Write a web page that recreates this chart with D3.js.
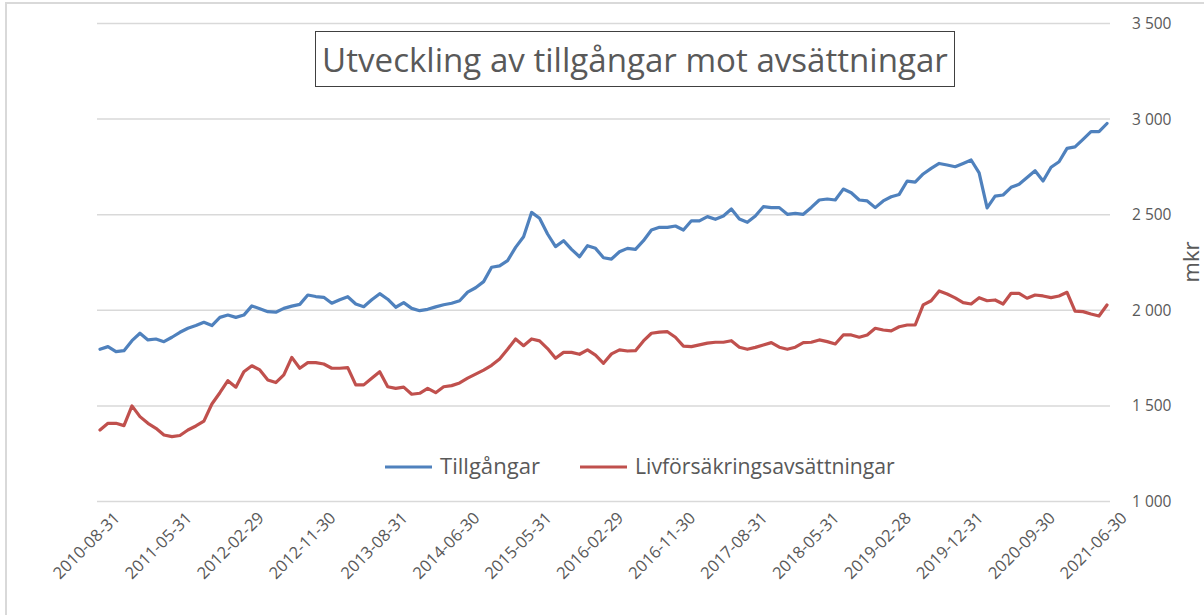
<!DOCTYPE html>
<html>
<head>
<meta charset="utf-8">
<script src="https://cdn.jsdelivr.net/npm/d3@7"></script>
<style>
  body { margin: 0; background: #fff; }
  text { font-family: "Open Sans", "Noto Sans", sans-serif; fill: #595959; }
</style>
</head>
<body>
<div id="chart"></div>
<script>
// month-end dates, a few months are missing in the source series
var skippedMonths = ["2013-12-31", "2014-09-30", "2014-12-31", "2019-06-30"];
var fmt = d3.timeFormat("%Y-%m-%d");
var categories = d3.timeMonth.range(new Date(2010, 7, 1), new Date(2021, 6, 1))
    .map(m => fmt(d3.timeDay.offset(d3.timeMonth.offset(m, 1), -1)))
    .filter(d => skippedMonths.indexOf(d) < 0);

var tickLabels = ["2010-08-31", "2011-05-31", "2012-02-29", "2012-11-30", "2013-08-31",
    "2014-06-30", "2015-05-31", "2016-02-29", "2016-11-30", "2017-08-31", "2018-05-31",
    "2019-02-28", "2019-12-31", "2020-09-30", "2021-06-30"];

var yTicks = [1000, 1500, 2000, 2500, 3000, 3500];

var tillgangar = [
    1796, 1810, 1784, 1789, 1841, 1880, 1845, 1850, 1836, 1859,
    1885, 1906, 1920, 1937, 1920, 1963, 1975, 1963, 1975, 2023,
    2008, 1993, 1990, 2010, 2022, 2031, 2080, 2072, 2068, 2037,
    2055, 2071, 2033, 2019, 2055, 2087, 2058, 2016, 2040, 2010,
    1998, 2005, 2018, 2029, 2037, 2050, 2095, 2118, 2150, 2225,
    2232, 2260, 2329, 2385, 2512, 2481, 2399, 2333, 2364, 2319,
    2280, 2338, 2324, 2275, 2268, 2306, 2324, 2319, 2364, 2420,
    2434, 2434, 2441, 2420, 2468, 2468, 2490, 2476, 2493, 2530,
    2477, 2460, 2493, 2542, 2537, 2537, 2502, 2507, 2502, 2538,
    2577, 2582, 2577, 2634, 2615, 2577, 2572, 2537, 2572, 2594,
    2606, 2676, 2670, 2713, 2742, 2768, 2760, 2751, 2768, 2786,
    2719, 2536, 2597, 2603, 2643, 2659, 2695, 2730, 2676, 2748,
    2777, 2847, 2855, 2894, 2934, 2934, 2977];

var avsattningar = [
    1374, 1409, 1409, 1397, 1500, 1444, 1409, 1383, 1348, 1339,
    1345, 1374, 1395, 1420, 1510, 1569, 1632, 1598, 1679, 1710,
    1688, 1636, 1622, 1662, 1754, 1697, 1726, 1726, 1719, 1697,
    1697, 1700, 1610, 1610, 1645, 1679, 1600, 1592, 1598, 1561,
    1566, 1592, 1569, 1600, 1606, 1620, 1645, 1666, 1687, 1712,
    1745, 1796, 1850, 1815, 1850, 1840, 1800, 1749, 1780, 1780,
    1770, 1793, 1766, 1723, 1772, 1793, 1787, 1789, 1840, 1880,
    1886, 1888, 1859, 1813, 1810, 1819, 1828, 1833, 1833, 1841,
    1807, 1796, 1806, 1819, 1831, 1807, 1796, 1807, 1831, 1833,
    1845, 1836, 1824, 1871, 1871, 1859, 1871, 1906, 1897, 1892,
    1914, 1923, 1923, 2028, 2050, 2101, 2085, 2065, 2040, 2033,
    2066, 2050, 2054, 2033, 2089, 2089, 2063, 2080, 2075, 2066,
    2075, 2094, 1996, 1993, 1981, 1970, 2028];

var seriesNames = ["Tillgångar", "Livförsäkringsavsättningar"];
var seriesColors = ["#4F81BD", "#C0504D"];

var svgWidth = 1204;
var svgHeight = 615;

var svg = d3.select("#chart")
    .append("svg")
    .attr("width", svgWidth)
    .attr("height", svgHeight);

// chart area border (only top and left are inside the picture)
svg.append("rect")
    .attr("x", 6)
    .attr("y", 3)
    .attr("width", 1300)
    .attr("height", 700)
    .attr("fill", "none")
    .attr("stroke", "#D9D9D9")
    .attr("stroke-width", 2);

var xScale = d3.scaleLinear()
    .domain([0, categories.length - 1])
    .range([100, 1107]);

var yScale = d3.scaleLinear()
    .domain([1000, 3500])
    .range([501.5, 23.5]);

var numFmt = d3.formatLocale({ decimal: ",", thousands: " ", grouping: [3], currency: ["", " kr"] }).format(",d");

// gridlines
svg.append("g")
    .selectAll("line")
    .data(yTicks)
    .enter()
    .append("line")
    .attr("x1", 97)
    .attr("x2", 1110)
    .attr("y1", d => yScale(d))
    .attr("y2", d => yScale(d))
    .attr("stroke", "#D9D9D9")
    .attr("stroke-width", 1.5);

// right axis labels
var yAxis = d3.axisRight(yScale)
    .tickValues(yTicks)
    .tickSize(0)
    .tickPadding(0)
    .tickFormat(numFmt);

var yAxisG = svg.append("g")
    .attr("transform", "translate(1132, 0)")
    .call(yAxis);
yAxisG.select(".domain").remove();
yAxisG.selectAll("text")
    .attr("font-size", 15.5)
    .attr("fill", "#595959")
    .style("font-family", "'Open Sans', sans-serif");

svg.append("text")
    .attr("transform", "translate(1199, 262) rotate(-90)")
    .attr("text-anchor", "middle")
    .attr("font-size", 22)
    .text("mkr");

// x tick labels
svg.append("g")
    .selectAll("text")
    .data(tickLabels)
    .enter()
    .append("text")
    .attr("transform", d => `translate(${xScale(categories.indexOf(d)) + 21}, 519) rotate(-45)`)
    .attr("text-anchor", "end")
    .attr("font-size", 16.5)
    .text(d => d);

// lines
var line = d3.line()
    .x((d, i) => xScale(i))
    .y(d => yScale(d));

[tillgangar, avsattningar].forEach(function(values, k) {
    svg.append("path")
        .datum(values)
        .attr("d", line)
        .attr("fill", "none")
        .attr("stroke", seriesColors[k])
        .attr("stroke-width", 3.2)
        .attr("stroke-linejoin", "round")
        .attr("stroke-linecap", "round");
});

// fit a text element to a target width
function fitWidth(sel, target) {
    var size = +sel.attr("font-size");
    var w = sel.node().getComputedTextLength();
    sel.attr("font-size", size * target / w);
}

// title box
svg.append("rect")
    .attr("x", 315.5)
    .attr("y", 31.5)
    .attr("width", 639)
    .attr("height", 55)
    .attr("fill", "#fff")
    .attr("stroke", "#404040")
    .attr("stroke-width", 1);

var title = svg.append("text")
    .attr("x", 635)
    .attr("y", 72)
    .attr("text-anchor", "middle")
    .attr("font-size", 30)
    .text("Utveckling av tillgångar mot avsättningar");
fitWidth(title, 626);

// legend
var legendX = [385, 580];
var legendTextW = [100, 260];
seriesNames.forEach(function(name, k) {
    svg.append("line")
        .attr("x1", legendX[k])
        .attr("x2", legendX[k] + 47)
        .attr("y1", 467)
        .attr("y2", 467)
        .attr("stroke", seriesColors[k])
        .attr("stroke-width", 3);
    var t = svg.append("text")
        .attr("x", legendX[k] + 55)
        .attr("y", 474)
        .attr("font-size", 18)
        .text(name);
    fitWidth(t, legendTextW[k]);
});
</script>
</body>
</html>
